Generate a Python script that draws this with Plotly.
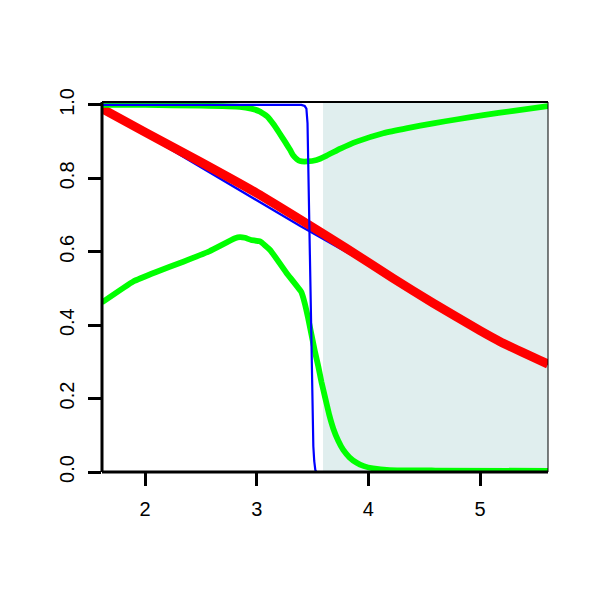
import plotly.graph_objects as go

# ---- data ----
red_x = [1.615, 2.0, 2.49, 3.0, 3.39, 3.8, 4.22, 4.58, 5.0, 5.18, 5.608]
red_y = [0.99, 0.926, 0.846, 0.760, 0.688, 0.610, 0.528, 0.460, 0.385, 0.355, 0.294]

blue_diag_x = [1.615, 3.39, 4.22, 4.58, 5.18, 5.608]
blue_diag_y = [0.99, 0.670, 0.528, 0.460, 0.355, 0.294]

blue_step_x = [1.615, 3.40, 3.43, 3.445, 3.455, 3.462, 3.47, 3.477, 3.485, 3.49,
               3.50, 3.507, 3.515, 3.525, 3.535, 5.608]
blue_step_y = [1.0, 1.0, 0.997, 0.99, 0.95, 0.83, 0.70, 0.56, 0.45, 0.30,
               0.18, 0.07, 0.03, 0.005, 0.0, 0.0]

green_up_x = [1.615, 2.0, 2.5, 2.85, 2.95, 3.03, 3.10, 3.149, 3.2, 3.253, 3.30,
              3.328, 3.36, 3.388, 3.45, 3.537, 3.627, 3.75, 3.895, 4.133, 4.35,
              4.58, 4.8, 5.03, 5.3, 5.608]
green_up_y = [1.0, 1.0, 0.998, 0.995, 0.99, 0.982, 0.967, 0.948, 0.925, 0.900,
              0.877, 0.862, 0.852, 0.847, 0.846, 0.850, 0.862, 0.881, 0.900,
              0.923, 0.937, 0.950, 0.961, 0.972, 0.984, 0.997]

green_lo_x = [1.615, 1.895, 2.1, 2.343, 2.58, 2.806, 2.85, 2.895, 2.95, 3.03,
              3.12, 3.27, 3.40, 3.43, 3.46, 3.49, 3.52, 3.552, 3.58, 3.611,
              3.65, 3.686, 3.73, 3.775, 3.83, 3.895, 3.96, 4.04, 4.19, 4.6, 5.608]
green_lo_y = [0.462, 0.519, 0.545, 0.573, 0.602, 0.637, 0.640, 0.638, 0.632,
              0.628, 0.605, 0.541, 0.490, 0.46, 0.42, 0.375, 0.33, 0.287, 0.245,
              0.205, 0.155, 0.118, 0.085, 0.060, 0.040, 0.025, 0.016, 0.010,
              0.005, 0.004, 0.003]

shade_start = 3.594
x_range = [1.615, 5.608]
y_range = [0.0, 1.008]
x_ticks = [2, 3, 4, 5]
y_ticks = [0.0, 0.2, 0.4, 0.6, 0.8, 1.0]

fig = go.Figure()
fig.add_trace(go.Scatter(x=blue_diag_x, y=blue_diag_y, mode="lines",
                         line=dict(color="#0000FF", width=2.3)))
fig.add_trace(go.Scatter(x=red_x, y=red_y, mode="lines",
                         line=dict(color="#FF0000", width=9, shape="spline", smoothing=0.6)))
fig.add_trace(go.Scatter(x=green_up_x, y=green_up_y, mode="lines",
                         line=dict(color="#00FF00", width=5.8, shape="spline", smoothing=0.3)))
fig.add_trace(go.Scatter(x=green_lo_x, y=green_lo_y, mode="lines",
                         line=dict(color="#00FF00", width=5.8, shape="spline", smoothing=0.3)))
fig.add_trace(go.Scatter(x=blue_step_x, y=blue_step_y, mode="lines",
                         line=dict(color="#0000FF", width=2.2)))

shapes = [
    dict(type="rect", xref="x", yref="paper", x0=shade_start, x1=x_range[1], y0=0, y1=1,
         fillcolor="#E0EEEE", line=dict(width=0), layer="below"),
    dict(type="line", xref="paper", yref="paper", x0=0, x1=0, y0=0, y1=1,
         line=dict(color="black", width=3)),
    dict(type="line", xref="paper", yref="paper", x0=0, x1=1, y0=0, y1=0,
         line=dict(color="black", width=3)),
    dict(type="line", xref="paper", yref="paper", x0=0, x1=1, y0=1, y1=1,
         line=dict(color="black", width=2)),
    dict(type="line", xref="paper", yref="paper", x0=1, x1=1, y0=0, y1=1,
         line=dict(color="black", width=1)),
]

tick_font = dict(family="Liberation Sans, Arial, sans-serif", size=20, color="black")

fig.update_layout(
    width=600, height=600,
    margin=dict(l=94, r=60, t=94, b=136),
    paper_bgcolor="white", plot_bgcolor="white",
    showlegend=False,
    shapes=shapes,
    font=tick_font,
    xaxis=dict(range=x_range, tickvals=x_ticks, ticktext=[str(t) for t in x_ticks],
               ticks="outside", ticklen=13, tickwidth=3, tickcolor="black",
               tickfont=tick_font,
               showgrid=False, zeroline=False, showline=False,
               ticklabelstandoff=6),
    yaxis=dict(range=y_range, tickvals=y_ticks, ticktext=[f"{t:.1f}" for t in y_ticks],
               ticks="outside", ticklen=13, tickwidth=3, tickcolor="black",
               tickfont=tick_font,
               tickangle=-90, showgrid=False, zeroline=False, showline=False,
               ticklabelstandoff=6),
)

fig.write_html("out.html")
